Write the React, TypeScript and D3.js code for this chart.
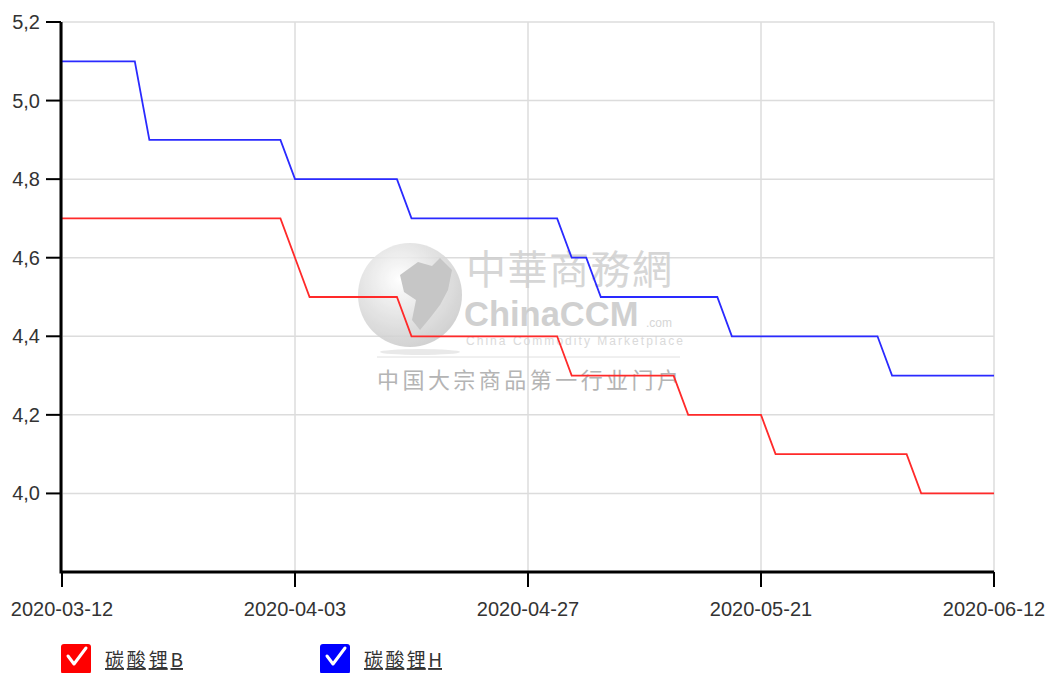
import React from "react";
import * as d3 from "d3";

const tickDates = ["2020-03-12", "2020-04-03", "2020-04-27", "2020-05-21", "2020-06-12"];
const tickIndex = [0, 16, 32, 48, 64];
const yTicks = [4.0, 4.2, 4.4, 4.6, 4.8, 5.0, 5.2];

// 65 working-day points, 碳酸锂B (red)
const seriesB = [
  4.7, 4.7, 4.7, 4.7, 4.7, 4.7, 4.7, 4.7, 4.7, 4.7,
  4.7, 4.7, 4.7, 4.7, 4.7, 4.7, 4.6, 4.5, 4.5, 4.5,
  4.5, 4.5, 4.5, 4.5, 4.4, 4.4, 4.4, 4.4, 4.4, 4.4,
  4.4, 4.4, 4.4, 4.4, 4.4, 4.3, 4.3, 4.3, 4.3, 4.3,
  4.3, 4.3, 4.3, 4.2, 4.2, 4.2, 4.2, 4.2, 4.2, 4.1,
  4.1, 4.1, 4.1, 4.1, 4.1, 4.1, 4.1, 4.1, 4.1, 4.0,
  4.0, 4.0, 4.0, 4.0, 4.0,
];
// 碳酸锂H (blue)
const seriesH = [
  5.1, 5.1, 5.1, 5.1, 5.1, 5.1, 4.9, 4.9, 4.9, 4.9,
  4.9, 4.9, 4.9, 4.9, 4.9, 4.9, 4.8, 4.8, 4.8, 4.8,
  4.8, 4.8, 4.8, 4.8, 4.7, 4.7, 4.7, 4.7, 4.7, 4.7,
  4.7, 4.7, 4.7, 4.7, 4.7, 4.6, 4.6, 4.5, 4.5, 4.5,
  4.5, 4.5, 4.5, 4.5, 4.5, 4.5, 4.4, 4.4, 4.4, 4.4,
  4.4, 4.4, 4.4, 4.4, 4.4, 4.4, 4.4, 4.3, 4.3, 4.3,
  4.3, 4.3, 4.3, 4.3, 4.3,
];
const seriesNames = ["碳酸锂B", "碳酸锂H"];
const seriesColors = ["#ff2a2a", "#2a2aff"];
const boxColors = ["#ff0000", "#0000ff"];

export default function App() {
  const W = 1052, H = 673;
  const left = 62, right = 994, top = 22, bottom = 572;
  const x = d3.scaleLinear().domain([0, seriesB.length - 1]).range([left, right]);
  const y = d3.scaleLinear().domain([3.8, 5.2]).range([bottom, top]);
  const line = d3.line<number>().x((_, i) => x(i)).y((d) => y(d));
  const font = "Arial, 'Liberation Sans', sans-serif";
  const cjk = "'Noto Sans CJK SC', sans-serif";
  const series = [seriesB, seriesH];

  return (
    <svg width={W} height={H} style={{ position: "absolute", left: 0, top: 0 }} fontFamily={font}>
      <defs>
        <radialGradient id="globe" cx="0.4" cy="0.35" r="0.7">
          <stop offset="0" stopColor="#ffffff" />
          <stop offset="0.5" stopColor="#e2e2e2" />
          <stop offset="1" stopColor="#c8c8c8" />
        </radialGradient>
      </defs>
      <rect width={W} height={H} fill="#fff" />
      {/* grid */}
      {yTicks.map((t) => (
        <line key={"gy" + t} x1={left} x2={right} y1={y(t)} y2={y(t)} stroke="#dcdcdc" strokeWidth={1.5} />
      ))}
      {tickIndex.map((t) => (
        <line key={"gx" + t} x1={x(t)} x2={x(t)} y1={top} y2={bottom} stroke="#dcdcdc" strokeWidth={1.5} />
      ))}
      {/* watermark */}
      <g opacity={0.85}>
        <circle cx={410} cy={295} r={52} fill="url(#globe)" />
        <path d="M400,275 L418,262 L432,266 L440,258 L452,270 L448,290 L440,305 L430,318 L420,330 L412,320 L416,300 L404,292 Z" fill="#bdbdbd" />
        <ellipse cx={420} cy={352} rx={40} ry={3} fill="#e6e6e6" />
        <text x={466} y={284} fontSize={40} fill="#cfcfcf" fontFamily={cjk} textLength={206}>中華商務網</text>
        <text x={464} y={326} fontSize={34.5} fontWeight="bold" fill="#c8c8c8" fontFamily={font}>ChinaCCM</text>
        <text x={646} y={327} fontSize={12} fill="#cfcfcf" fontFamily={font}>.com</text>
        <text x={466} y={345} fontSize={12} fill="#d4d4d4" fontFamily={font} textLength={217}>China Commodity Marketplace</text>
        <line x1={377} x2={680} y1={357} y2={357} stroke="#dcdcdc" strokeWidth={1} />
        <text x={377} y={388} fontSize={22} fill="#a8a8a8" fontFamily={cjk} textLength={302}>中国大宗商品第一行业门户</text>
      </g>
      {/* lines */}
      {series.map((s, i) => (
        <path key={"s" + i} d={line(s) || ""} fill="none" stroke={seriesColors[i]} strokeWidth={1.8} />
      ))}
      {/* axes */}
      <line x1={61} x2={61} y1={top} y2={bottom + 1.5} stroke="#000" strokeWidth={3} />
      <line x1={61} x2={right} y1={bottom} y2={bottom} stroke="#000" strokeWidth={3} />
      {yTicks.map((t) => (
        <g key={"yt" + t}>
          <line x1={46} x2={61} y1={y(t)} y2={y(t)} stroke="#000" strokeWidth={2} />
          <text x={40} y={y(t)} dy="0.35em" textAnchor="end" fontSize={20} fill="#333">
            {d3.format(".1f")(t).replace(".", ",")}
          </text>
        </g>
      ))}
      {tickIndex.map((t, i) => (
        <g key={"xt" + t}>
          <line x1={x(t)} x2={x(t)} y1={bottom} y2={bottom + 15} stroke="#000" strokeWidth={2} />
          <text x={x(t)} y={616} textAnchor="middle" fontSize={20} fill="#333">{tickDates[i]}</text>
        </g>
      ))}
      {/* legend */}
      {seriesNames.map((n, i) => {
        const lx = [61, 320][i];
        return (
          <g key={"lg" + i}>
            <rect x={lx} y={644} width={30} height={30} rx={3} fill={boxColors[i]} />
            <path d={`M${lx + 7},656 L${lx + 13},664 L${lx + 25},648`} fill="none" stroke="#fff" strokeWidth={3} strokeLinecap="round" strokeLinejoin="round" />
            <text x={lx + 44} y={667} fontSize={19} fill="#333" fontFamily={cjk} textDecoration="underline" textLength={78}>{n}</text>
          </g>
        );
      })}
    </svg>
  );
}
